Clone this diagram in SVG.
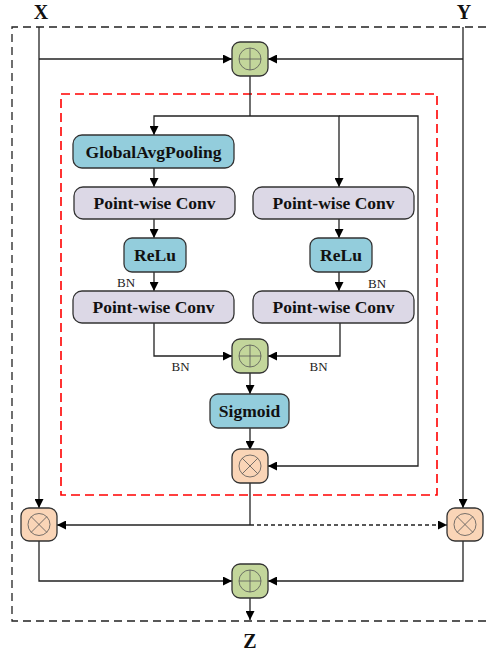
<svg xmlns="http://www.w3.org/2000/svg" width="486" height="655" viewBox="0 0 486 655">
<defs>
<marker id="arr" viewBox="0 0 10 10" refX="10" refY="5" markerWidth="9" markerHeight="9" markerUnits="userSpaceOnUse" orient="auto">
<path d="M0,0 L10,5 L0,10 z" fill="#000"/>
</marker>
<style>
.box{stroke:#333;stroke-width:1.3}
.blue{fill:#93CDDC}
.lav{fill:#DCD8E6}
.green{fill:#C3D69B}
.peach{fill:#FAD5B7}
.sym{fill:none;stroke:#555;stroke-width:0.8}
.t{font-family:"Liberation Serif","Times New Roman",serif;font-weight:bold;font-size:17.5px;text-anchor:middle;fill:#111}
.big{font-family:"Liberation Serif","Times New Roman",serif;font-weight:bold;font-size:20px;text-anchor:middle;fill:#111}
.bn{font-family:"Liberation Serif","Times New Roman",serif;font-size:13px;text-anchor:middle;fill:#222}
.c{fill:none;stroke:#222;stroke-width:1.3}
.ca{fill:none;stroke:#222;stroke-width:1.3;marker-end:url(#arr)}
</style>
</defs>
<rect width="486" height="655" fill="#fff"/>
<path d="M486,27 H12 V621 H486" fill="none" stroke="#222" stroke-width="1.3" stroke-dasharray="8,5"/>
<rect x="61" y="94" width="376" height="401" fill="none" stroke="#FF0000" stroke-width="1.6" stroke-dasharray="9,5"/>
<text class="big" x="41" y="19">X</text>
<text class="big" x="464" y="19">Y</text>
<text class="big" x="250" y="648">Z</text>
<g id="connectors">
<path class="ca" d="M39,27 V508"/>
<path class="ca" d="M39,59 H232"/>
<path class="ca" d="M463,27 V508"/>
<path class="ca" d="M463,59 H268"/>
<path class="c" d="M250,76 V116"/>
<path class="ca" d="M250,116 H154 V135"/>
<path class="ca" d="M250,116 H339 V187"/>
<path class="ca" d="M339,116 H418 V466 H268"/>
<path class="ca" d="M154,168 V187"/>
<path class="ca" d="M154,219 V238"/>
<path class="ca" d="M339,219 V238"/>
<path class="ca" d="M154,272 V291"/>
<path class="ca" d="M339,272 V291"/>
<path class="ca" d="M154,323 V356 H232"/>
<path class="ca" d="M340,323 V356 H268"/>
<path class="ca" d="M250,373 V394"/>
<path class="ca" d="M250,428 V450"/>
<path class="c" d="M250,482 V525"/>
<path class="ca" d="M250,525 H57"/>
<path class="ca" d="M250,525 H447" stroke-dasharray="4,3"/>
<path class="ca" d="M39,541 V581 H232"/>
<path class="ca" d="M463,541 V581 H268"/>
<path class="ca" d="M250,598 V620"/>
</g>
<g id="add_top">
<rect class="box green" x="232" y="42" width="36" height="34" rx="8"/>
<circle class="sym" cx="250" cy="59" r="11"/>
<path class="sym" d="M239,59 H261 M250,48 V70"/>
</g>
<g id="gap">
<rect class="box blue" x="73" y="135" width="161" height="33" rx="9"/>
<text class="t" x="153.5" y="157.5">GlobalAvgPooling</text>
</g>
<g id="pwc_l1">
<rect class="box lav" x="74" y="187" width="161" height="32" rx="9"/>
<text class="t" x="154.5" y="209">Point-wise Conv</text>
</g>
<g id="pwc_r1">
<rect class="box lav" x="253" y="187" width="161" height="32" rx="9"/>
<text class="t" x="333.5" y="209">Point-wise Conv</text>
</g>
<g id="relu_l">
<rect class="box blue" x="124" y="238" width="62" height="34" rx="8"/>
<text class="t" x="155" y="261">ReLu</text>
</g>
<g id="relu_r">
<rect class="box blue" x="310" y="238" width="62" height="34" rx="8"/>
<text class="t" x="341" y="261">ReLu</text>
</g>
<text class="bn" x="126" y="287">BN</text>
<text class="bn" x="377" y="288">BN</text>
<g id="pwc_l2">
<rect class="box lav" x="73" y="291" width="161" height="32" rx="9"/>
<text class="t" x="153.5" y="313">Point-wise Conv</text>
</g>
<g id="pwc_r2">
<rect class="box lav" x="253" y="291" width="161" height="32" rx="9"/>
<text class="t" x="333.5" y="313">Point-wise Conv</text>
</g>
<text class="bn" x="180.5" y="371">BN</text>
<text class="bn" x="318.5" y="371">BN</text>
<g id="add_mid">
<rect class="box green" x="232" y="339" width="36" height="34" rx="8"/>
<circle class="sym" cx="250" cy="356" r="11"/>
<path class="sym" d="M239,356 H261 M250,345 V367"/>
</g>
<g id="sigmoid">
<rect class="box blue" x="210" y="394" width="79" height="34" rx="8"/>
<text class="t" x="249.5" y="417">Sigmoid</text>
</g>
<g id="mul_mid">
<rect class="box peach" x="232" y="449" width="36" height="34" rx="8"/>
<circle class="sym" cx="250" cy="466" r="11"/>
<path class="sym" d="M242.2,458.2 L257.8,473.8 M257.8,458.2 L242.2,473.8"/>
</g>
<g id="mul_left">
<rect class="box peach" x="21" y="508" width="36" height="33" rx="8"/>
<circle class="sym" cx="39" cy="524.5" r="11"/>
<path class="sym" d="M31.2,516.7 L46.8,532.3 M46.8,516.7 L31.2,532.3"/>
</g>
<g id="mul_right">
<rect class="box peach" x="447" y="508" width="36" height="33" rx="8"/>
<circle class="sym" cx="465" cy="524.5" r="11"/>
<path class="sym" d="M457.2,516.7 L472.8,532.3 M472.8,516.7 L457.2,532.3"/>
</g>
<g id="add_bottom">
<rect class="box green" x="232" y="564" width="36" height="34" rx="8"/>
<circle class="sym" cx="250" cy="581" r="11"/>
<path class="sym" d="M239,581 H261 M250,570 V592"/>
</g>
</svg>
